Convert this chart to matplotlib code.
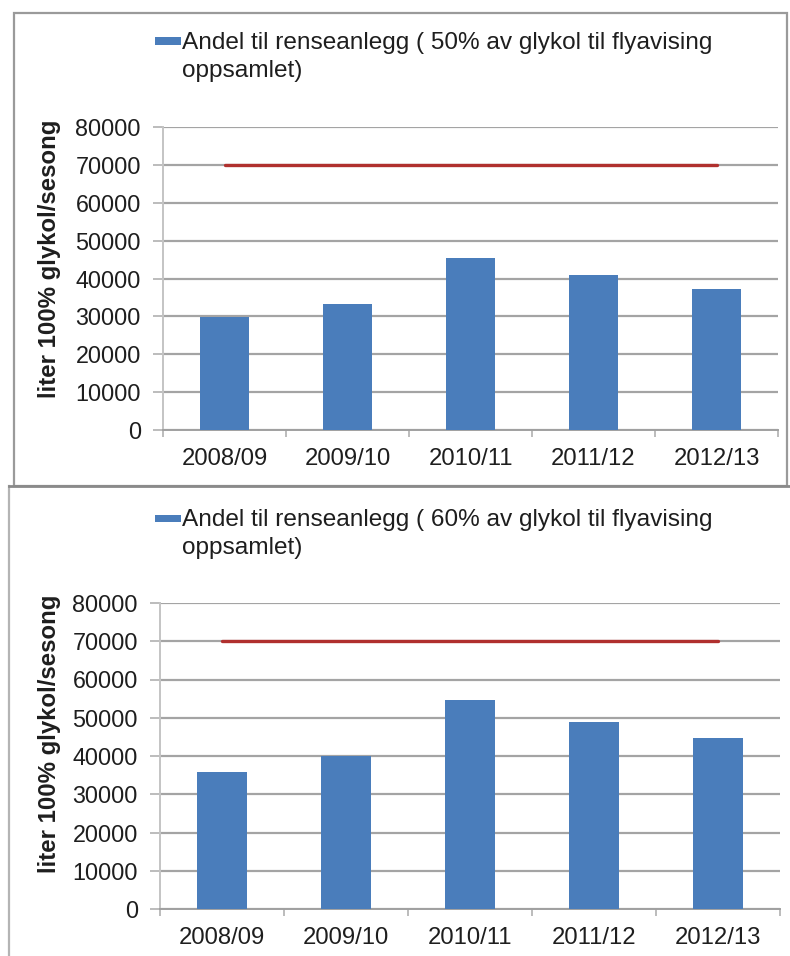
import matplotlib
matplotlib.use("Agg")
import matplotlib.pyplot as plt
from matplotlib.lines import Line2D
from matplotlib.patches import Rectangle
import numpy as np

# Seasons and glycol volumes (litres of 100 % glycol per season)
seasons = ["2008/09", "2009/10", "2010/11", "2011/12", "2012/13"]
share_50pct = [29800, 33200, 45500, 40900, 37200]
share_60pct = [35700, 40000, 54700, 49000, 44700]
capacity_limit = [70000, 70000, 70000, 70000, 70000]

labels = [
    ["Andel til renseanlegg ( 50% av glykol til flyavising", "oppsamlet)"],
    ["Andel til renseanlegg ( 60% av glykol til flyavising", "oppsamlet)"],
]
y_ticks = [0, 10000, 20000, 30000, 40000, 50000, 60000, 70000, 80000]
y_label = "liter 100% glykol/sesong"

BAR = "#4a7dbb"
RED = "#b0302e"
GRID = "#a4a4a4"
TEXT = "#1e1e1e"

plt.rcParams["font.family"] = ["Liberation Sans", "DejaVu Sans"]

fig = plt.figure(figsize=(7.9, 9.56), dpi=100)
W, H = 790, 956


def fx(px):
    return px / W


def fy(py):
    return 1 - py / H


# panel frames
fig.add_artist(Rectangle((fx(14), fy(486)), fx(787) - fx(14), fy(13) - fy(486),
                         transform=fig.transFigure, fill=False,
                         edgecolor="#9a9a9a", linewidth=1.6, zorder=0))
fig.add_artist(Line2D([fx(9), fx(9)], [fy(486), 0], transform=fig.transFigure,
                      color="#b4b4b4", linewidth=1.6))
fig.add_artist(Line2D([fx(9), fx(790)], [fy(486), fy(486)], transform=fig.transFigure,
                      color="#8a8a8a", linewidth=2.0))

panels = [
    dict(values=share_50pct, label=labels[0],
         ax_px=(163, 127, 778, 430), leg_px=(155, 41, 49, 77), ylab=(-0.166, 0.566)),
    dict(values=share_60pct, label=labels[1],
         ax_px=(160, 603, 780, 909), leg_px=(155, 518, 526, 554), ylab=(-0.160, 0.572)),
]

x = np.arange(len(seasons))
for p in panels:
    l, t, r, b = p["ax_px"]
    ax = fig.add_axes([fx(l), fy(b), fx(r) - fx(l), fy(t) - fy(b)])
    bars = ax.bar(x, p["values"], width=0.4, color=BAR, zorder=3)
    ax.plot(x, capacity_limit, color=RED, linewidth=2.4, solid_capstyle="round", zorder=4)

    ax.set_xlim(-0.5, len(seasons) - 0.5)
    ax.set_ylim(0, 80000)
    ax.set_yticks(y_ticks)
    ax.set_yticklabels([str(v) for v in y_ticks])
    ax.set_xticks(x)
    ax.set_xticklabels(seasons)
    ax.set_xticks(np.arange(-0.5, len(seasons)), minor=True)

    ax.grid(axis="y", color=GRID, linewidth=1.6, zorder=1)
    ax.set_axisbelow(True)
    for s in ("top", "right"):
        ax.spines[s].set_visible(False)
    ax.spines["left"].set_color("#c4c4c4")
    ax.spines["left"].set_linewidth(1.4)
    ax.spines["bottom"].set_color("#a0a0a0")
    ax.spines["bottom"].set_linewidth(1.4)

    ax.tick_params(axis="y", which="major", length=7, width=1.2, color="#b0b0b0",
                   pad=9, labelsize=16.8, labelcolor=TEXT)
    ax.tick_params(axis="x", which="major", length=0, pad=13,
                   labelsize=17.2, labelcolor=TEXT)
    ax.tick_params(axis="x", which="minor", length=5, width=1.2, color="#b0b0b0")

    ax.set_ylabel(y_label, fontsize=17.3, fontweight="bold", color=TEXT)
    ax.yaxis.set_label_coords(*p["ylab"])

    # legend: colour swatch and a two-line label
    sx, sy, base1, base2 = p["leg_px"]
    fig.add_artist(Rectangle((fx(sx), fy(sy + 3.5)), fx(26), 7 / H,
                             transform=fig.transFigure,
                             facecolor=bars.patches[0].get_facecolor(),
                             edgecolor="none"))
    fig.text(fx(sx + 27), fy(base1), p["label"][0], fontsize=17.6,
             color=TEXT, va="baseline", ha="left")
    fig.text(fx(sx + 27), fy(base2), p["label"][1], fontsize=17.6,
             color=TEXT, va="baseline", ha="left")

fig.savefig("out.png", dpi=100, facecolor="white")
